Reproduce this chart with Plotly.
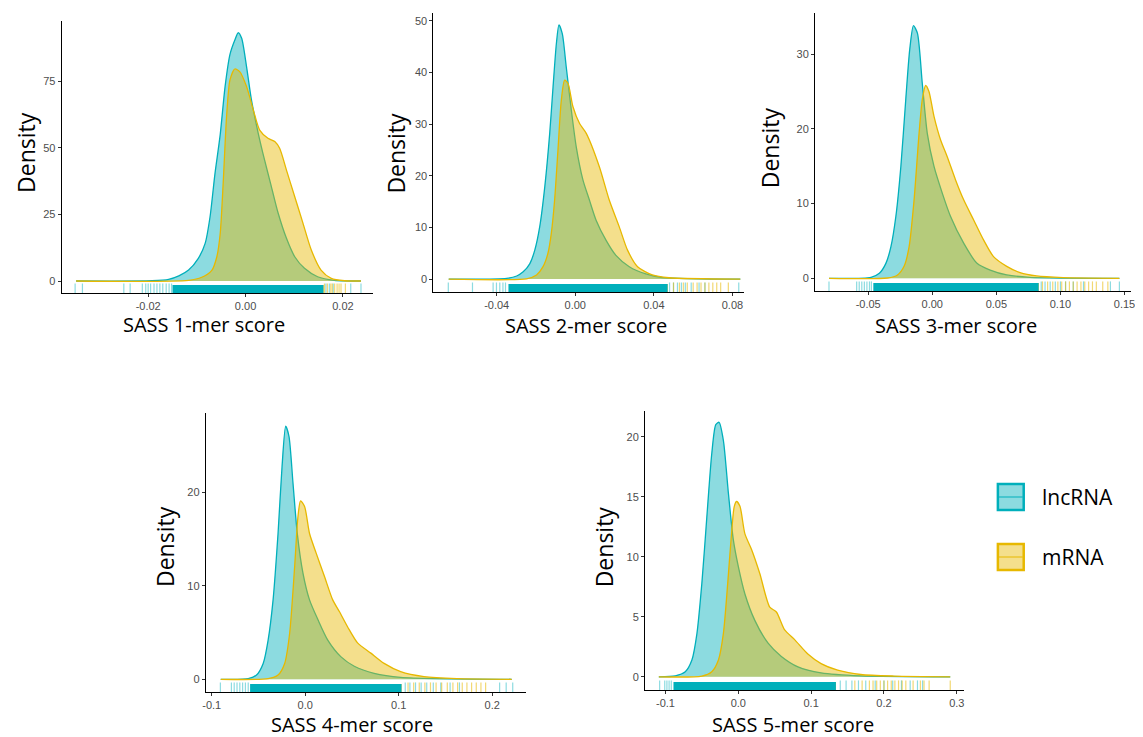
import plotly.graph_objects as go

# page body has an 8px margin: build the figure in page pixels and shift by it
OFF = 8
FW, FH = 1143 - OFF, 737 - OFF
TEAL = "#00AFBB"
GOLD = "#E7B800"
TEAL_FILL = "rgba(0,175,187,0.45)"
GOLD_FILL = "rgba(231,184,0,0.45)"

groups = ["lncRNA", "mRNA"]
titles = ["SASS 1-mer score", "SASS 2-mer score", "SASS 3-mer score",
          "SASS 4-mer score", "SASS 5-mer score"]

# ---------------- density curves ----------------
k1_lnc_x = [-0.0348, -0.0192, -0.0158, -0.0137, -0.0117, -0.0097, -0.0083, -0.0073, -0.0063, -0.0052,
            -0.0042, -0.0032, -0.0022, -0.0015, -0.0008, 0.0002, 0.0012, 0.0026, 0.0039, 0.0053,
            0.0067, 0.0084, 0.0101, 0.0121, 0.0148, 0.0182, 0.0237]
k1_lnc_y = [0, 0.1, 0.6, 1.9, 4.1, 8.5, 14.1, 24, 40, 55,
            73, 85, 90.4, 93.1, 91, 80.4, 68, 55.4, 45.4, 35.4,
            25.4, 16, 9.1, 4.75, 1.6, 0.25, 0]
k1_mrna_x = [-0.0348, -0.0117, -0.0090, -0.0069, -0.0059, -0.0052, -0.0046, -0.0039, -0.0032, -0.0022,
             -0.0012, 0.0002, 0.0016, 0.0029, 0.0046, 0.0060, 0.0070, 0.0084, 0.0101, 0.0118,
             0.0135, 0.0155, 0.0176, 0.0203, 0.0237]
k1_mrna_y = [0, 0.25, 1.4, 4.1, 9.1, 17.9, 36.6, 61.6, 75.4, 79.5,
             78.5, 72.9, 64.1, 56.6, 53.5, 52.3, 49.75, 41.6, 31.6, 21.6,
             11.6, 4.1, 1.0, 0.1, 0]

k2_lnc_x = [-0.0644, -0.0349, -0.0298, -0.0265, -0.0231, -0.0206, -0.0181, -0.0155, -0.0130, -0.0113,
            -0.0096, -0.0083, -0.0066, -0.0046, -0.0020, 0.0005, 0.0039, 0.0072, 0.0106, 0.0157,
            0.0207, 0.0275, 0.0359, 0.0443, 0.0840]
k2_lnc_y = [0, 0.13, 0.6, 1.4, 3.0, 5.6, 10.1, 17.9, 28.2, 37.2,
            45.6, 49.2, 47.5, 41.1, 32.7, 25.6, 19.2, 15.3, 11.4, 7.5,
            4.6, 2.4, 1.0, 0.3, 0]
k2_mrna_x = [-0.0644, -0.0248, -0.0197, -0.0164, -0.0139, -0.0122, -0.0105, -0.0088, -0.0071, -0.0054,
             -0.0037, -0.0012, 0.0022, 0.0056, 0.0123, 0.0173, 0.0224, 0.0266, 0.0317, 0.0392,
             0.0477, 0.0840]
k2_mrna_y = [0, 0.06, 0.8, 2.4, 5.0, 8.8, 15.3, 25, 34.6, 38.5,
             37.9, 33.4, 30.1, 28.2, 21.7, 15.3, 10.1, 5.6, 2.4, 0.8,
             0.26, 0]

k3_lnc_x = [-0.0806, -0.0478, -0.0413, -0.0362, -0.0323, -0.0284, -0.0245, -0.0207, -0.0176, -0.0147,
            -0.0116, -0.0078, -0.0039, 0.0013, 0.0078, 0.0142, 0.0245, 0.0349, 0.0452, 0.0581,
            0.0762, 0.1460]
k3_lnc_y = [0, 0.13, 0.67, 2.0, 4.2, 8.3, 15.0, 23.9, 30.6, 33.8,
            32.8, 26.1, 19.4, 15.0, 11.4, 8.3, 4.7, 2.0, 1.1, 0.45,
            0.13, 0]
k3_mrna_x = [-0.0806, -0.0349, -0.0271, -0.0220, -0.0181, -0.0142, -0.0103, -0.0078, -0.0052, -0.0026,
             0.0013, 0.0065, 0.0116, 0.0181, 0.0245, 0.0323, 0.0401, 0.0478, 0.0581, 0.0685,
             0.0814, 0.1021, 0.1460]
k3_mrna_y = [0, 0.04, 0.45, 1.6, 4.2, 10.5, 19.4, 23.9, 25.8, 25.0,
             21.7, 18.5, 16.3, 13.2, 10.5, 7.8, 5.1, 2.9, 1.6, 0.76,
             0.31, 0.09, 0]

k4_lnc_x = [-0.0904, -0.0610, -0.0521, -0.0450, -0.0397, -0.0344, -0.0291, -0.0248, -0.0209, -0.0174,
            -0.0131, -0.0085, -0.0025, 0.0046, 0.0135, 0.0241, 0.0383, 0.0525, 0.0737, 0.1021,
            0.2209]
k4_lnc_y = [0, 0.07, 0.46, 1.7, 4.2, 8.5, 15.6, 22.8, 27.1, 26.0,
            21.0, 15.6, 11.4, 8.5, 6.4, 4.2, 2.4, 1.4, 0.64, 0.21,
            0]
k4_mrna_x = [-0.0904, -0.0397, -0.0291, -0.0220, -0.0167, -0.0113, -0.0078, -0.0050, -0.0007, 0.0046,
             0.0117, 0.0206, 0.0294, 0.0365, 0.0454, 0.0560, 0.0702, 0.0844, 0.1021, 0.1270,
             0.1624, 0.2209]
k4_mrna_y = [0, 0.07, 0.46, 1.7, 4.9, 12.1, 17.4, 19.1, 18.5, 15.6,
             13.5, 11.0, 8.5, 7.25, 5.6, 3.9, 2.8, 1.7, 0.82, 0.29,
             0.07, 0]

k5_lnc_x = [-0.1091, -0.0864, -0.0728, -0.0637, -0.0568, -0.0500, -0.0432, -0.0364, -0.0309, -0.0264,
            -0.0205, -0.0136, -0.0068, 0.0000, 0.0091, 0.0227, 0.0409, 0.0591, 0.0819, 0.1137,
            0.1682, 0.2910]
k5_lnc_y = [0, 0.08, 0.42, 1.4, 3.6, 7.8, 13.3, 18.6, 21.0, 21.2,
            19.7, 15.3, 11.4, 9.2, 6.9, 4.7, 2.8, 1.7, 0.83, 0.33,
            0.08, 0]
k5_mrna_x = [-0.1091, -0.0500, -0.0364, -0.0273, -0.0205, -0.0145, -0.0100, -0.0055, -0.0023, 0.0023,
             0.0091, 0.0182, 0.0295, 0.0432, 0.0523, 0.0637, 0.0773, 0.0955, 0.1137, 0.1364,
             0.1682, 0.2138, 0.2910]
k5_mrna_y = [0, 0.06, 0.42, 1.4, 3.6, 7.8, 11.4, 14.2, 14.6, 14.2,
             11.9, 10.6, 8.6, 5.8, 5.4, 3.9, 3.1, 1.9, 1.1, 0.56,
             0.19, 0.06, 0]

# ---------------- rug (dense range + individual sparse ticks) ----------------
k1_band_lnc = [-0.0150, 0.0160]
k1_band_mrna = [-0.0110, 0.0160]
k1_rug_lnc = [-0.0350, -0.0335, -0.0250, -0.0237, -0.0212, -0.0205, -0.0200, -0.0195, -0.0188, -0.0182,
              -0.0176, -0.0170, -0.0163, -0.0157, -0.0152, 0.0165, 0.0172, 0.0180, 0.0216, 0.0237]
k1_rug_mrna = [0.0162, 0.0168, 0.0175, 0.0178, 0.0183, 0.0188, 0.0192, 0.0196, 0.0205]

k2_band_lnc = [-0.0340, 0.0470]
k2_band_mrna = [-0.0250, 0.0470]
k2_rug_lnc = [-0.0646, -0.0523, -0.0418, -0.0401, -0.0384, -0.0368, -0.0355, 0.0480, 0.0500, 0.0520,
              0.0540, 0.0560, 0.0590, 0.0630, 0.0660, 0.0832]
k2_rug_mrna = [0.0500, 0.0530, 0.0550, 0.0570, 0.0600, 0.0620, 0.0640, 0.0660, 0.0680, 0.0700,
               0.0720, 0.0740, 0.0779]

k3_band_lnc = [-0.0460, 0.0830]
k3_band_mrna = [-0.0350, 0.0830]
k3_rug_lnc = [-0.0806, -0.0590, -0.0570, -0.0550, -0.0530, -0.0510, -0.0490, -0.0475, 0.0850, 0.0880,
              0.0920, 0.0960, 0.1000, 0.1040, 0.1100, 0.1180, 0.1390, 0.1460]
k3_rug_mrna = [0.0860, 0.0900, 0.0940, 0.0980, 0.1010, 0.1040, 0.1070, 0.1100, 0.1130, 0.1160,
               0.1190, 0.1220, 0.1250, 0.1280, 0.1330, 0.1370]

k4_band_lnc = [-0.0590, 0.1030]
k4_band_mrna = [-0.0400, 0.1030]
k4_rug_lnc = [-0.0908, -0.0790, -0.0760, -0.0730, -0.0700, -0.0670, -0.0640, -0.0610, 0.1070, 0.1120,
              0.1180, 0.1240, 0.1300, 0.1370, 0.1450, 0.1550, 0.1650, 0.2080, 0.2150, 0.2220]
k4_rug_mrna = [0.1100, 0.1160, 0.1220, 0.1280, 0.1340, 0.1400, 0.1460, 0.1520, 0.1580, 0.1630,
               0.1680, 0.1730, 0.1780, 0.1830, 0.1880, 0.1930]

k5_band_lnc = [-0.0890, 0.1340]
k5_band_mrna = [-0.0500, 0.1340]
k5_rug_lnc = [-0.1080, -0.1010, -0.0980, -0.0950, -0.0920, 0.1400, 0.1480, 0.1560, 0.1650, 0.1750,
              0.1880, 0.2000, 0.2120, 0.2240, 0.2360, 0.2460, 0.2530]
k5_rug_mrna = [0.1600, 0.1700, 0.1800, 0.1850, 0.1900, 0.1950, 0.2000, 0.2050, 0.2100, 0.2150,
               0.2200, 0.2250, 0.2300, 0.2400, 0.2500, 0.2550, 0.2620, 0.2910]

# ---------------- tick labels ----------------
k1_xticks = [-0.02, 0.0, 0.02]
k1_xlabels = ["-0.02", "0.00", "0.02"]
k1_yticks = [0, 25, 50, 75]
k2_xticks = [-0.04, 0.0, 0.04, 0.08]
k2_xlabels = ["-0.04", "0.00", "0.04", "0.08"]
k2_yticks = [0, 10, 20, 30, 40, 50]
k3_xticks = [-0.05, 0.0, 0.05, 0.10, 0.15]
k3_xlabels = ["-0.05", "0.00", "0.05", "0.10", "0.15"]
k3_yticks = [0, 10, 20, 30]
k4_xticks = [-0.1, 0.0, 0.1, 0.2]
k4_xlabels = ["-0.1", "0.0", "0.1", "0.2"]
k4_yticks = [0, 10, 20]
k5_xticks = [-0.1, 0.0, 0.1, 0.2, 0.3]
k5_xlabels = ["-0.1", "0.0", "0.1", "0.2", "0.3"]
k5_yticks = [0, 5, 10, 15, 20]

panels = [
    dict(lx=k1_lnc_x, ly=k1_lnc_y, mx=k1_mrna_x, my=k1_mrna_y, bl=k1_band_lnc, bm=k1_band_mrna,
         rl=k1_rug_lnc, rm=k1_rug_mrna, xt=k1_xticks, xl=k1_xlabels, yt=k1_yticks,
         px=(59, 372), py=(21, 293), xr=(-0.03776, 0.02612), yr=(-4.5, 97.5),
         dens=(23, 152), sass=(202, 324)),
    dict(lx=k2_lnc_x, ly=k2_lnc_y, mx=k2_mrna_x, my=k2_mrna_y, bl=k2_band_lnc, bm=k2_band_mrna,
         rl=k2_rug_lnc, rm=k2_rug_mrna, xt=k2_xticks, xl=k2_xlabels, yt=k2_yticks,
         px=(433, 746), py=(13, 292), xr=(-0.0722, 0.0861), yr=(-2.5, 51.5),
         dens=(395, 153), sass=(587, 325)),
    dict(lx=k3_lnc_x, ly=k3_lnc_y, mx=k3_mrna_x, my=k3_mrna_y, bl=k3_band_lnc, bm=k3_band_mrna,
         rl=k3_rug_lnc, rm=k3_rug_mrna, xt=k3_xticks, xl=k3_xlabels, yt=k3_yticks,
         px=(817, 1135), py=(13, 291), xr=(-0.0915, 0.1551), yr=(-1.7, 35.5),
         dens=(772, 148), sass=(959, 325)),
    dict(lx=k4_lnc_x, ly=k4_lnc_y, mx=k4_mrna_x, my=k4_mrna_y, bl=k4_band_lnc, bm=k4_band_mrna,
         rl=k4_rug_lnc, rm=k4_rug_mrna, xt=k4_xticks, xl=k4_xlabels, yt=k4_yticks,
         px=(204, 526), py=(413, 692), xr=(-0.1064, 0.236), yr=(-1.36, 28.5),
         dens=(163, 547), sass=(351, 724)),
    dict(lx=k5_lnc_x, ly=k5_lnc_y, mx=k5_mrna_x, my=k5_mrna_y, bl=k5_band_lnc, bm=k5_band_mrna,
         rl=k5_rug_lnc, rm=k5_rug_mrna, xt=k5_xticks, xl=k5_xlabels, yt=k5_yticks,
         px=(646, 967), py=(411, 690), xr=(-0.128, 0.31), yr=(-1.1, 22.14),
         dens=(605, 547), sass=(795, 724)),
]


def fx(px):
    return (px - OFF) / FW


def fy(py):
    return 1 - (py - OFF) / FH


fig = go.Figure()
layout = dict(width=FW, height=FH, margin=dict(l=0, r=0, t=0, b=0),
              paper_bgcolor="white", plot_bgcolor="white", showlegend=False)
annotations = []
shapes = []
RUG_PX = 8
TICKFONT = dict(family="Liberation Sans, Arial", size=11, color="#4D4D4D")

for i, p in enumerate(panels):
    n = i + 1
    xa = "x" if n == 1 else f"x{n}"
    ya = "y" if n == 1 else f"y{n}"
    xkey = "xaxis" if n == 1 else f"xaxis{n}"
    ykey = "yaxis" if n == 1 else f"yaxis{n}"

    plot_h = p["py"][1] - p["py"][0]
    ppu = plot_h / (p["yr"][1] - p["yr"][0])
    y0 = p["yr"][0]
    y1 = y0 + RUG_PX / ppu
    yc = (y0 + y1) / 2

    for band, col in ((p["bm"], GOLD), (p["bl"], TEAL)):
        fig.add_trace(go.Scatter(x=[band[0], band[1], band[1], band[0], band[0]],
                                 y=[y0, y0, y1, y1, y0], mode="lines", fill="toself",
                                 fillcolor=col, line=dict(width=0), xaxis=xa, yaxis=ya,
                                 hoverinfo="skip"))
    fig.add_trace(go.Scatter(x=p["rl"], y=[yc] * len(p["rl"]), mode="markers",
                             marker=dict(symbol="line-ns", size=RUG_PX,
                                         line=dict(width=1.2, color="rgba(0,175,187,0.45)")),
                             xaxis=xa, yaxis=ya, hoverinfo="skip"))
    fig.add_trace(go.Scatter(x=p["rm"], y=[yc] * len(p["rm"]), mode="markers",
                             marker=dict(symbol="line-ns", size=RUG_PX,
                                         line=dict(width=1.2, color="rgba(231,184,0,0.55)")),
                             xaxis=xa, yaxis=ya, hoverinfo="skip"))

    fig.add_trace(go.Scatter(x=p["lx"], y=p["ly"], mode="lines", fill="tozeroy",
                             fillcolor=TEAL_FILL, line=dict(color=TEAL, width=1.3, shape="spline",
                                                            smoothing=0.7),
                             name=groups[0], xaxis=xa, yaxis=ya))
    fig.add_trace(go.Scatter(x=p["mx"], y=p["my"], mode="lines", fill="tozeroy",
                             fillcolor=GOLD_FILL, line=dict(color=GOLD, width=1.3, shape="spline",
                                                            smoothing=0.7),
                             name=groups[1], xaxis=xa, yaxis=ya))

    layout[xkey] = dict(domain=[fx(p["px"][0]), fx(p["px"][1])], range=list(p["xr"]),
                        anchor=ya, showgrid=False, zeroline=False, showline=True,
                        linecolor="black", linewidth=1, ticks="outside", ticklen=3,
                        tickcolor="#333333", tickvals=p["xt"], ticktext=p["xl"],
                        tickfont=TICKFONT)
    layout[ykey] = dict(domain=[fy(p["py"][1]), fy(p["py"][0])], range=list(p["yr"]),
                        anchor=xa, showgrid=False, zeroline=False, showline=True,
                        linecolor="black", linewidth=1, ticks="outside", ticklen=3,
                        tickcolor="#333333", tickvals=p["yt"], tickfont=TICKFONT)

    annotations.append(dict(text="Density", x=fx(p["dens"][0]), y=fy(p["dens"][1]),
                            xref="paper", yref="paper", showarrow=False, textangle=-90,
                            xanchor="center", yanchor="middle",
                            font=dict(family="Open Sans", size=23, color="black")))
    annotations.append(dict(text=titles[i], x=fx(p["sass"][0]), y=fy(p["sass"][1]),
                            xref="paper", yref="paper", showarrow=False,
                            xanchor="center", yanchor="middle",
                            font=dict(family="Open Sans", size=20, color="black")))

leg = [(groups[0], TEAL, TEAL_FILL, 483), (groups[1], GOLD, GOLD_FILL, 543)]
for name, lc, fc, top in leg:
    shapes.append(dict(type="rect", xref="paper", yref="paper",
                       x0=fx(1001), x1=fx(1027), y0=fy(top + 27), y1=fy(top + 1),
                       line=dict(color=lc, width=2.5), fillcolor=fc))
    shapes.append(dict(type="line", xref="paper", yref="paper",
                       x0=fx(1002), x1=fx(1026), y0=fy(top + 14), y1=fy(top + 14),
                       line=dict(color=lc, width=1)))
    annotations.append(dict(text=name, x=fx(1043), y=fy(top + 14), xref="paper",
                            yref="paper", showarrow=False, xanchor="left", yanchor="middle",
                            font=dict(family="Open Sans", size=21, color="black")))

layout["annotations"] = annotations
layout["shapes"] = shapes
fig.update_layout(**layout)
fig.write_html("out.html")
